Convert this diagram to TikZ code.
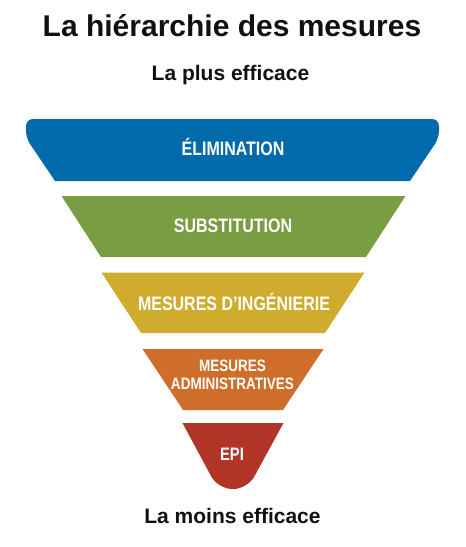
\documentclass[tikz,border=0pt]{standalone}
\usepackage{fontspec}
\setmainfont{Liberation Sans}
\newfontfamily\bandfont{Liberation Sans}[FakeStretch=0.82]
\usetikzlibrary{positioning}
\definecolor{hblack}{HTML}{111111}
\definecolor{hblue}{HTML}{006AAA}
\definecolor{hgreen}{HTML}{789D42}
\definecolor{hyellow}{HTML}{CFAB2E}
\definecolor{horange}{HTML}{CF6E2B}
\definecolor{hred}{HTML}{B03527}

\begin{document}
\begin{tikzpicture}[x=1pt, y=-1pt,
    heading/.style={font=\bfseries\fontsize{21}{24}\selectfont, text=hblack,
                    anchor=base, inner sep=0pt},
    bandlabel/.style={font=\bandfont\bfseries\fontsize{19.5}{22}\selectfont,
                      text=white, anchor=base, inner sep=0pt, align=center}]
    \useasboundingbox (0,0) rectangle (466,547);

    \node[heading, font=\bfseries\fontsize{30}{34}\selectfont] (titre) at (232,36.5)
          {La hiérarchie des mesures};
    \node[heading] (plus) at (230.5,80) {La plus efficace};

    \fill[hblue] (55,181) [rounded corners=7pt] -- (26,138) -- (26,119)
          -- (439,119) -- (439,138) [sharp corners] -- (410,181) -- cycle;
    \fill[hgreen] (61.5,196) -- (405.5,196) -- (366,257) -- (101,257) -- cycle;
    \fill[hyellow] (101.5,272.5) -- (364.5,272.5) -- (325,333) -- (141,333) -- cycle;
    \fill[horange] (142.5,349) -- (323.5,349) -- (283,410) -- (183,410) -- cycle;
    \fill[hred] (182.5,423) -- (283.5,423) [rounded corners=14pt] -- (247.5,489)
          -- (218,489) [sharp corners] -- cycle;

    \node[bandlabel] (elim) at (233,155) {ÉLIMINATION};
    \node[bandlabel] (subst) at (233,232.7) {SUBSTITUTION};
    \node[bandlabel] (ingen) at (234,310.7) {MESURES D’INGÉNIERIE};
    \node[bandlabel, anchor=center, font=\bandfont\bfseries\fontsize{16.5}{18.3}\selectfont]
          (admin) at (232.5,374.8) {MESURES\\ADMINISTRATIVES};
    \node[bandlabel, font=\bandfont\bfseries\fontsize{18}{20}\selectfont] (epi) at (232,460) {EPI};

    \node[heading] (moins) at (232.5,523.3) {La moins efficace};
\end{tikzpicture}
\end{document}
